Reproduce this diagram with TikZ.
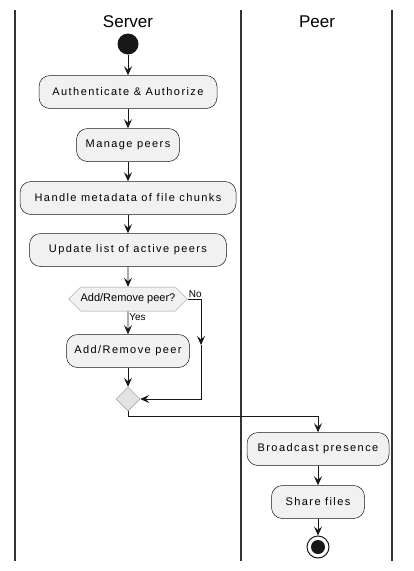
\documentclass[tikz,border=0pt]{standalone}
\usepackage{fontspec}
\setmainfont{Liberation Sans}
\usetikzlibrary{arrows.meta,shapes.geometric,shapes.symbols}
\definecolor{boxfill}{HTML}{F1F1F1}
\definecolor{ink}{HTML}{181818}
\definecolor{lanecol}{HTML}{333333}
\definecolor{gatefill}{HTML}{E2E2E2}
\definecolor{gateline}{HTML}{9A9A9A}

\begin{document}
\begin{tikzpicture}[x=1pt,y=-1pt,line width=0.5pt,
  act/.style={draw=ink,fill=boxfill,rounded corners=11pt,minimum height=33pt,inner sep=0pt,
    font=\fontsize{11}{13}\selectfont\addfontfeatures{LetterSpace=13}},
  gate/.style={signal,signal to=east and west,draw=gateline,fill=boxfill,minimum height=24pt,
    inner xsep=0pt,inner ysep=0pt,font=\fontsize{11}{13}\selectfont},
  mergebox/.style={diamond,draw=gateline,fill=gatefill,minimum size=24pt,inner sep=0pt},
  flow/.style={draw=ink,line width=0.8pt,-{Stealth[length=9pt,width=8pt,inset=3.5pt]}},
  lane/.style={draw=lanecol,line width=1.5pt},
  title/.style={font=\fontsize{17}{20}\selectfont},
  lbl/.style={font=\fontsize{10}{12}\selectfont,inner sep=1pt}]
\useasboundingbox (0,0) rectangle (414,571);

% swimlanes
\draw[lane] (15,10) -- (15,561);
\draw[lane] (241,10) -- (241,561);
\draw[lane] (392,10) -- (392,561);
\node[title] (srv) at (128,22) {Server};
\node[title] (peer) at (317,22) {Peer};

% server lane
\node[circle,fill=ink,minimum size=21pt,inner sep=0pt] (init) at (128,44) {};
\node[act,minimum width=178pt] (auth) at (128,92) {Authenticate \& Authorize};
\node[act,minimum width=103pt] (manage) at (128,145) {Manage peers};
\node[act,minimum width=216pt] (meta) at (128,198) {Handle metadata of file chunks};
\node[act,minimum width=197pt] (update) at (128,250) {Update list of active peers};
\node[gate] (ask) at (128,299) {Add/Remove peer?};
\node[act,minimum width=123pt] (addrm) at (128,351) {Add/Remove peer};
\node[mergebox] (merge) at (128,399) {};

% peer lane
\node[act,minimum width=142pt] (bcast) at (318,449) {Broadcast presence};
\node[act,minimum width=93pt] (share) at (318,502) {Share files};
\node[circle,draw=ink,line width=1pt,fill=white,minimum size=22pt,inner sep=0pt,
  path picture={\fill[ink] (path picture bounding box.center) circle (7pt);}] (done) at (318,547) {};

\coordinate (nomid) at (201,345);
\coordinate (turn) at (128,416);

\draw[flow] (init) -- (auth);
\draw[flow] (auth) -- (manage);
\draw[flow] (manage) -- (meta);
\draw[flow] (meta) -- (update);
\draw[flow] (update) -- (ask);
\draw[flow] (ask) -- node[lbl,right,pos=0.25] (yes) {Yes} (addrm);
\draw[flow] (addrm) -- (merge);
\draw[flow] (ask.east) -| (nomid);
\draw[flow] (nomid) |- (merge.east);
\node[lbl,anchor=south west] (no) at (ask.east) {No};
\draw[flow] (merge.south) -- (turn) -| (bcast.north);
\draw[flow] (bcast) -- (share);
\draw[flow] (share) -- (done);
\end{tikzpicture}
\end{document}
